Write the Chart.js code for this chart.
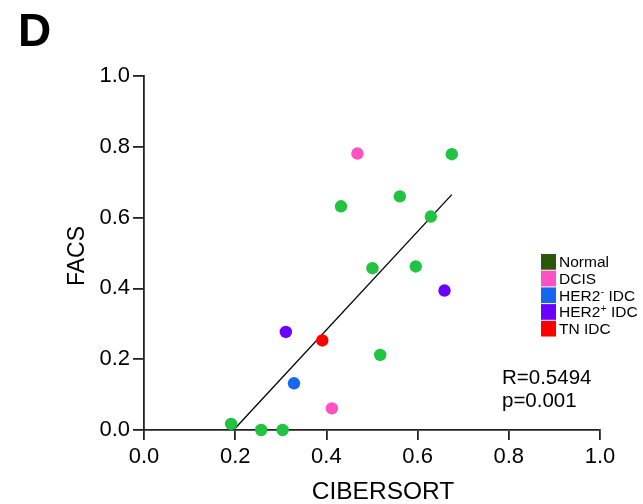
<!DOCTYPE html>
<html>
<head>
<meta charset="utf-8">
<script src="https://cdn.jsdelivr.net/npm/chart.js@4.4.1/dist/chart.umd.min.js"></script>
<style>
  html, body { margin: 0; padding: 0; background: #fff; }
  #wrap { position: relative; width: 643px; height: 504px; }
  canvas { display: block; }
</style>
</head>
<body>
<div id="wrap"><canvas id="chart" width="643" height="504"></canvas></div>
<script>
// CIBERSORT vs FACS estimates, one array per tissue group
const normalX = [0.191, 0.257, 0.304, 0.432, 0.501, 0.518, 0.561, 0.596, 0.629, 0.675];
const normalY = [0.017, 0.000, 0.000, 0.632, 0.457, 0.212, 0.660, 0.462, 0.603, 0.779];
const dcisX = [0.468, 0.412];
const dcisY = [0.781, 0.061];
const her2NegX = [0.329];
const her2NegY = [0.132];
const her2PosX = [0.311, 0.659];
const her2PosY = [0.277, 0.394];
const tnX = [0.391];
const tnY = [0.253];

// Linear fit endpoints
const fitX = [0.200, 0.675];
const fitY = [0.005, 0.665];

const tickValues = [0.0, 0.2, 0.4, 0.6, 0.8, 1.0];

const groupNames = ['Normal', 'DCIS', 'HER2', 'HER2', 'TN IDC'];
const groupSup = ['', '', '-', '+', ''];
const groupSuffix = ['', '', ' IDC', ' IDC', ''];
const legendColors = ['#2b5708', '#ff52c2', '#1567f0', '#6a00ff', '#ff0000'];
const pointColors = ['#22c341', '#ff52c2', '#1567f0', '#6a00ff', '#ff0000'];

const statsLines = ['R=0.5494', 'p=0.001'];

const toPoints = (xs, ys) => xs.map((x, i) => ({ x: x, y: ys[i] }));

const FONT = '"Liberation Sans", Arial, Helvetica, sans-serif';
const AXIS = '#222';

function scatterSet(label, xs, ys, color) {
  return {
    type: 'scatter',
    label: label,
    data: toPoints(xs, ys),
    backgroundColor: color,
    borderColor: color,
    borderWidth: 0,
    pointRadius: 6.2,
    pointHoverRadius: 6.2,
    order: 0,
    clip: false
  };
}

// Panel letter, axis titles, legend and statistics
const annotations = {
  id: 'annotations',
  afterDraw(chart) {
    const ctx = chart.ctx;
    ctx.save();
    ctx.fillStyle = '#000';
    ctx.textBaseline = 'alphabetic';

    ctx.font = 'bold 46px ' + FONT;
    ctx.textAlign = 'left';
    ctx.fillText('D', 18, 46);

    ctx.font = '24.5px ' + FONT;
    ctx.textAlign = 'center';
    ctx.fillText('CIBERSORT', 383, 499);

    ctx.save();
    ctx.font = '23px ' + FONT;
    ctx.translate(84, 256);
    ctx.rotate(-Math.PI / 2);
    ctx.fillText('FACS', 0, 0);
    ctx.restore();

    // legend
    const lx = 541, ly0 = 254, step = 16.7;
    for (let i = 0; i < groupNames.length; i++) {
      const y = ly0 + i * step;
      ctx.fillStyle = legendColors[i];
      ctx.fillRect(lx, y, 15, 15.7);
      ctx.fillStyle = '#000';
      ctx.textAlign = 'left';
      ctx.font = '15.5px ' + FONT;
      let tx = lx + 18;
      const base = y + 13.3;
      ctx.fillText(groupNames[i], tx, base);
      tx += ctx.measureText(groupNames[i]).width;
      if (groupSup[i]) {
        ctx.font = '10px ' + FONT;
        ctx.fillText(groupSup[i], tx + 0.5, base - 5.5);
        tx += ctx.measureText(groupSup[i]).width + 0.5;
        ctx.font = '15.5px ' + FONT;
        ctx.fillText(groupSuffix[i], tx, base);
      }
    }

    // statistics
    ctx.font = '20.5px ' + FONT;
    ctx.textAlign = 'left';
    ctx.fillText(statsLines[0], 502, 384);
    ctx.fillText(statsLines[1], 502, 407);
    ctx.restore();
  }
};

new Chart(document.getElementById('chart'), {
  data: {
    datasets: [
      {
        type: 'line',
        label: 'fit',
        data: toPoints(fitX, fitY),
        borderColor: '#000',
        borderWidth: 1.3,
        pointRadius: 0,
        fill: false,
        tension: 0,
        order: 10
      },
      scatterSet('Normal', normalX, normalY, pointColors[0]),
      scatterSet('DCIS', dcisX, dcisY, pointColors[1]),
      scatterSet('HER2- IDC', her2NegX, her2NegY, pointColors[2]),
      scatterSet('HER2+ IDC', her2PosX, her2PosY, pointColors[3]),
      scatterSet('TN IDC', tnX, tnY, pointColors[4])
    ]
  },
  options: {
    responsive: false,
    animation: false,
    events: [],
    layout: { padding: { top: 76, right: 43, left: 0, bottom: 0 } },
    plugins: {
      legend: { display: false },
      tooltip: { enabled: false }
    },
    scales: {
      x: {
        type: 'linear',
        min: 0,
        max: 1,
        afterBuildTicks(scale) { scale.ticks = tickValues.map(v => ({ value: v })); },
        afterFit(scale) { scale.height = 74; },
        border: { display: true, color: AXIS, width: 1.8 },
        grid: { drawOnChartArea: false, drawTicks: true, tickLength: 10, color: AXIS, lineWidth: 1.8 },
        ticks: {
          color: '#000',
          font: { family: FONT, size: 22 },
          padding: 4,
          maxRotation: 0,
          callback: v => Number(v).toFixed(1)
        }
      },
      y: {
        type: 'linear',
        min: 0,
        max: 1,
        afterBuildTicks(scale) { scale.ticks = tickValues.map(v => ({ value: v })); },
        afterFit(scale) { scale.width = 144; },
        border: { display: true, color: AXIS, width: 1.8 },
        grid: { drawOnChartArea: false, drawTicks: true, tickLength: 11, color: AXIS, lineWidth: 1.8 },
        ticks: {
          color: '#000',
          font: { family: FONT, size: 22 },
          padding: 3,
          callback: v => Number(v).toFixed(1)
        }
      }
    }
  },
  plugins: [annotations]
});
</script>
</body>
</html>
